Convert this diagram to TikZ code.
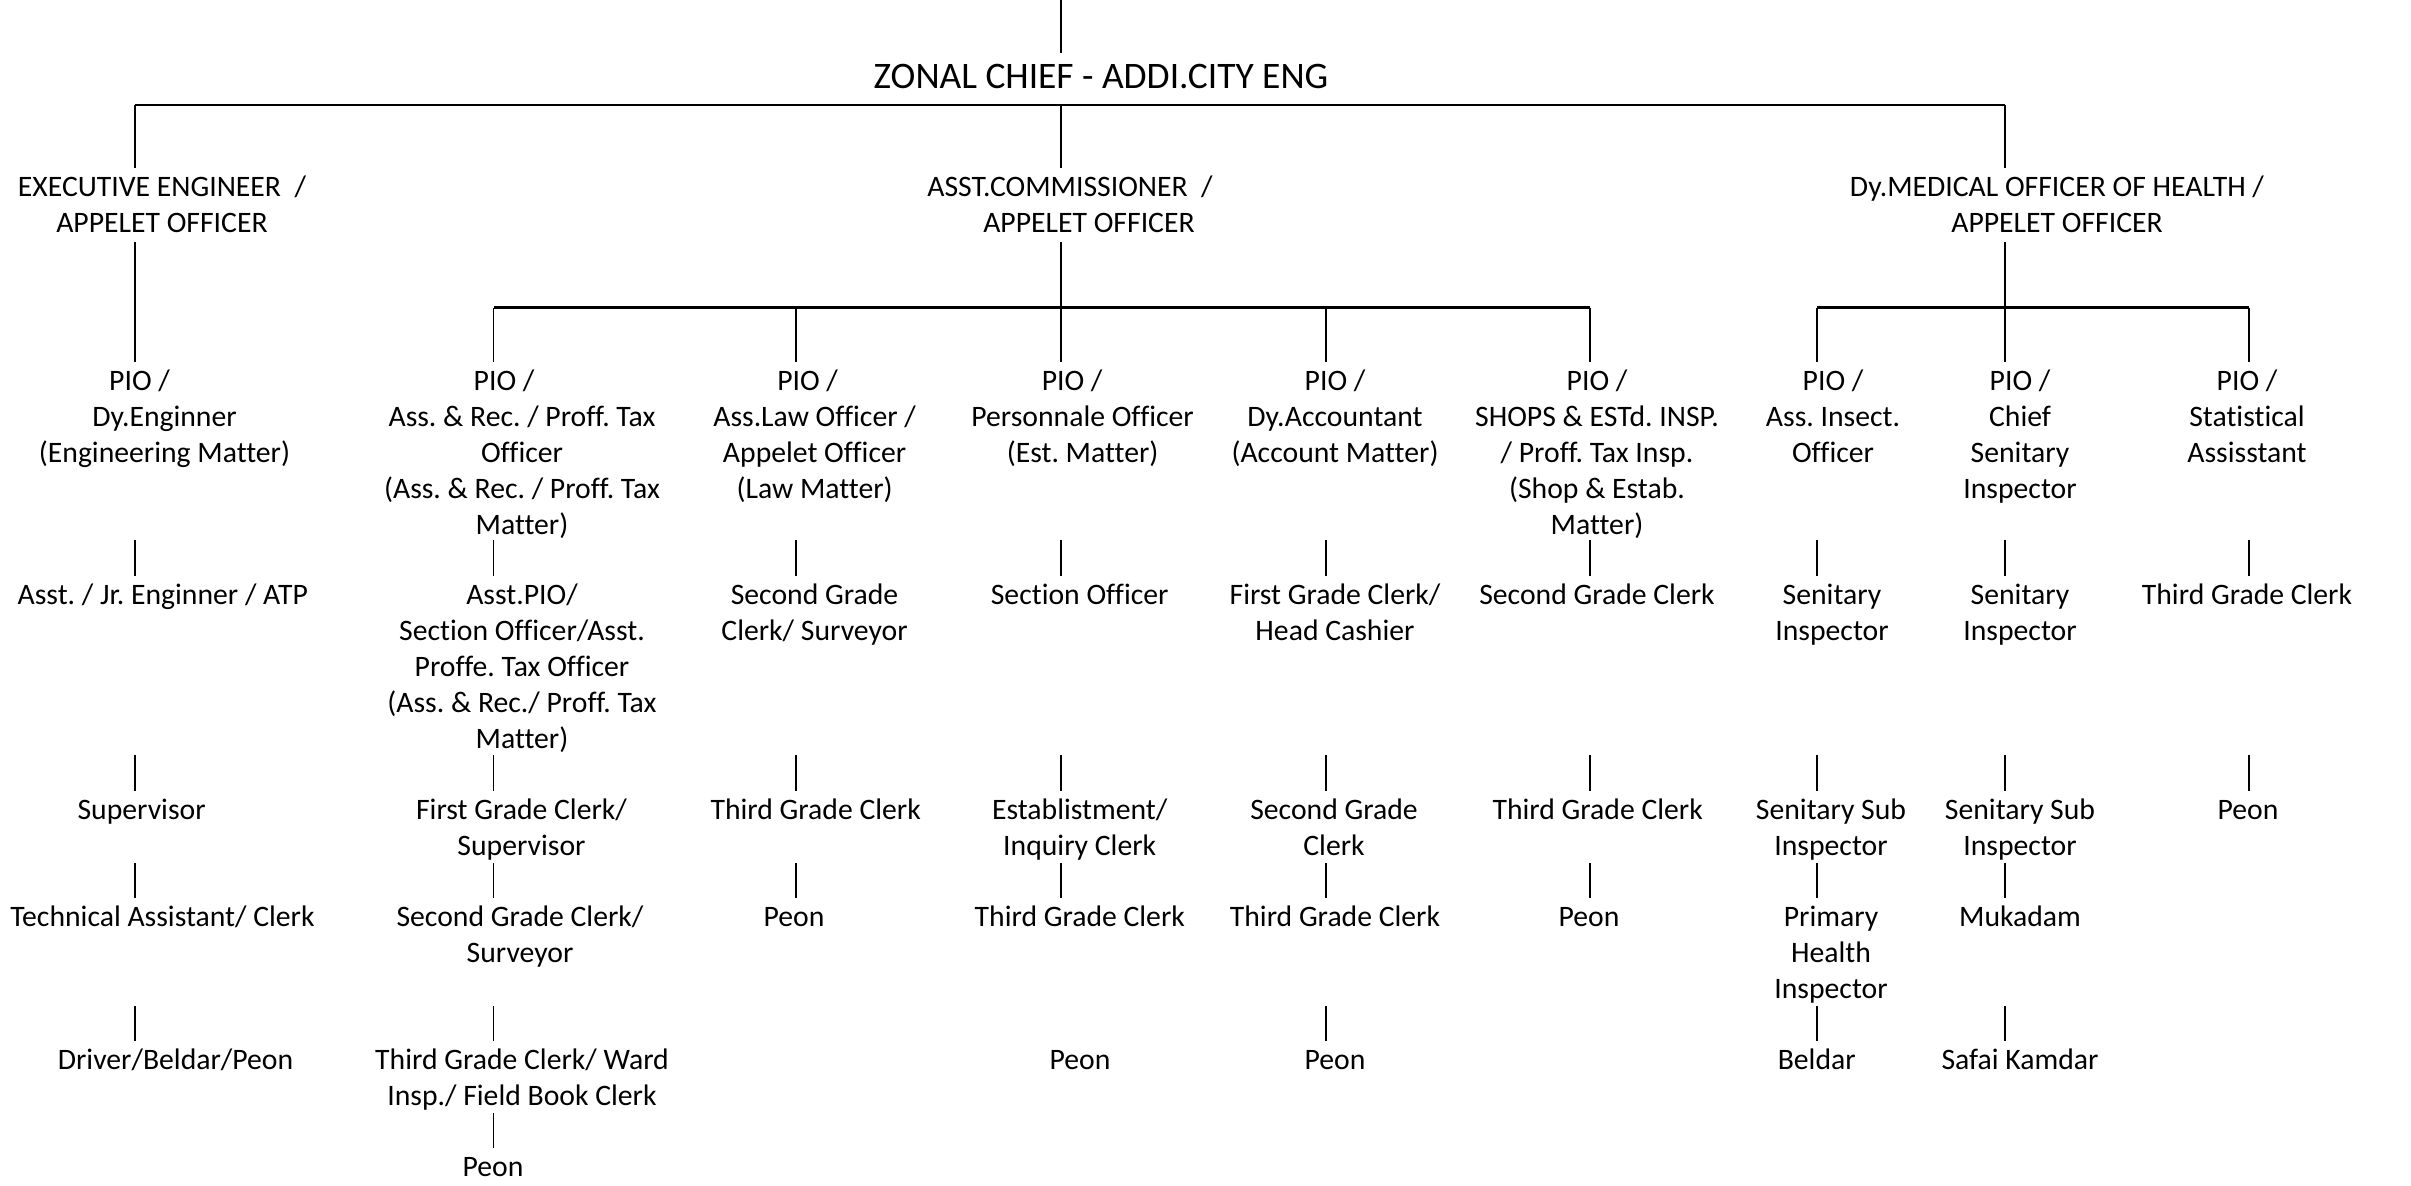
\documentclass[tikz,border=0pt]{standalone}
\usepackage{fontspec}
\setmainfont{Carlito}[Ligatures=NoCommon]
\usepackage{tikz}
\frenchspacing

\tikzset{
    post/.style={anchor=north, inner sep=0pt, align=center,
        font=\fontsize{8.45}{10.2}\selectfont, execute at begin node=\strut},
    head/.style={anchor=base, inner sep=0pt,
        font=\fontsize{10.65}{12.5}\selectfont, execute at begin node=\strut},
    link/.style={line width=0.45pt, shorten >=1pt},
    stem/.style={line width=0.45pt},
    bus/.style={line width=0.6pt}
}

\begin{document}
\begin{tikzpicture}
        \useasboundingbox (0,0) rectangle (24.11,-11.85);

        % columns and levels
        \coordinate (x0) at (1.35,0);
        \coordinate (x1) at (4.935,0);
        \coordinate (x2) at (7.96,0);
        \coordinate (x3) at (10.61,0);
        \coordinate (x4) at (13.257,0);
        \coordinate (x5) at (15.90,0);
        \coordinate (x6) at (18.17,0);
        \coordinate (x7) at (20.05,0);
        \coordinate (x8) at (22.49,0);
        \coordinate (top) at (0,0);
        \coordinate (bus1) at (0,-1.05);
        \coordinate (lvl1) at (0,-2.42);
        \coordinate (bus2) at (0,-3.075);
        \coordinate (lvl2) at (0,-5.40);
        \coordinate (lvl3) at (0,-7.55);
        \coordinate (lvl4) at (0,-8.63);
        \coordinate (lvl5) at (0,-10.06);
        \coordinate (lvl6) at (0,-11.13);

        \node[head] (zonal) at (11.01,-0.88) {ZONAL CHIEF - ADDI.CITY ENG};

        % first level
        \node[post] (exe) at (1.62,-1.71) {\strut EXECUTIVE ENGINEER~~/\\APPELET OFFICER};
        \node[post] (asst) at (10.89,-1.71) {\strut ASST.COMMISSIONER~~/\hspace*{0.38cm}\\APPELET OFFICER};
        \node[post] (dymed) at (20.57,-1.71) {\strut Dy.MEDICAL OFFICER OF HEALTH /\\APPELET OFFICER};

        % pio line
        \node[post] (pio0) at (1.645,-3.65) {\strut PIO /\hspace*{0.50cm}\\Dy.Enginner\\(Engineering Matter)};
        \node[post] (pio1) at (5.22,-3.65) {\strut PIO /\hspace*{0.36cm}\\Ass. \& Rec. / Proff. Tax\\Officer\\(Ass. \& Rec. / Proff. Tax\\Matter)};
        \node[post] (pio2) at (8.146,-3.65) {\strut PIO /\hspace*{0.14cm}\\Ass.Law Officer /\\Appelet Officer\\(Law Matter)};
        \node[post] (pio3) at (10.826,-3.65) {\strut PIO /\hspace*{0.21cm}\\Personnale Officer\\(Est. Matter)};
        \node[post] (pio4) at (13.35,-3.65) {\strut PIO /\\Dy.Accountant\\(Account Matter)};
        \node[post] (pio5) at (15.97,-3.65) {\strut PIO /\\SHOPS \& ESTd. INSP.\\/ Proff. Tax Insp.\\(Shop \& Estab.\\Matter)};
        \node[post] (pio6) at (18.33,-3.65) {\strut PIO /\\Ass. Insect.\\Officer};
        \node[post] (pio7) at (20.20,-3.65) {\strut PIO /\\Chief\\Senitary\\Inspector};
        \node[post] (pio8) at (22.47,-3.65) {\strut PIO /\\Statistical\\Assisstant};

        % third line
        \node[post] (r3c0) at (1.628,-5.79) {Asst. / Jr. Enginner / ATP};
        \node[post] (r3c1) at (5.22,-5.79) {\strut Asst.PIO/\\Section Officer/Asst.\\Proffe. Tax Officer\\(Ass. \& Rec./ Proff. Tax\\Matter)};
        \node[post] (r3c2) at (8.145,-5.79) {\strut Second Grade\\Clerk/ Surveyor};
        \node[post] (r3c3) at (10.797,-5.79) {Section Officer};
        \node[post] (r3c4) at (13.35,-5.79) {\strut First Grade Clerk/\\Head Cashier};
        \node[post] (r3c5) at (15.97,-5.79) {Second Grade Clerk};
        \node[post] (r3c6) at (18.32,-5.79) {\strut Senitary\\Inspector};
        \node[post] (r3c7) at (20.20,-5.79) {\strut Senitary\\Inspector};
        \node[post] (r3c8) at (22.47,-5.79) {Third Grade Clerk};

        % fourth line
        \node[post] (r4c0) at (1.416,-7.94) {Supervisor};
        \node[post] (r4c1) at (5.215,-7.94) {\strut First Grade Clerk/\\Supervisor};
        \node[post] (r4c2) at (8.157,-7.94) {Third Grade Clerk};
        \node[post] (r4c3) at (10.797,-7.94) {\strut Establistment/\\Inquiry Clerk};
        \node[post] (r4c4) at (13.34,-7.94) {\strut Second Grade\\Clerk};
        \node[post] (r4c5) at (15.977,-7.94) {Third Grade Clerk};
        \node[post] (r4c6) at (18.31,-7.94) {\strut Senitary Sub\\Inspector};
        \node[post] (r4c7) at (20.20,-7.94) {\strut Senitary Sub\\Inspector};
        \node[post] (r4c8) at (22.48,-7.94) {Peon};

        % fifth line
        \node[post] (r5c0) at (1.625,-9.01) {Technical Assistant/ Clerk};
        \node[post] (r5c1) at (5.20,-9.01) {\strut Second Grade Clerk/\\Surveyor};
        \node[post] (r5c2) at (7.94,-9.01) {Peon};
        \node[post] (r5c3) at (10.798,-9.01) {Third Grade Clerk};
        \node[post] (r5c4) at (13.35,-9.01) {Third Grade Clerk};
        \node[post] (r5c5) at (15.89,-9.01) {Peon};
        \node[post] (r5c6) at (18.31,-9.01) {\strut Primary\\Health\\Inspector};
        \node[post] (r5c7) at (20.20,-9.01) {Mukadam};

        % sixth line
        \node[post] (r6c0) at (1.755,-10.44) {Driver/Beldar/Peon};
        \node[post] (r6c1) at (5.22,-10.44) {\strut Third Grade Clerk/ Ward\\Insp./ Field Book Clerk};
        \node[post] (r6c3) at (10.80,-10.44) {Peon};
        \node[post] (r6c4) at (13.35,-10.44) {Peon};
        \node[post] (r6c6) at (18.167,-10.44) {Beldar};
        \node[post] (r6c7) at (20.20,-10.44) {Safai Kamdar};

        % last line
        \node[post] (r7c1) at (4.93,-11.51) {Peon};

        % lines from the top
        \draw[link] (x3 |- top) -- (x3 |- zonal.north);
        \draw[bus] (x0 |- bus1) -- (x7 |- bus1);
        \foreach \c/\n in {x0/exe, x3/asst, x7/dymed}
            \draw[link] (\c |- bus1) -- (\c |- \n.north);
        \draw[link] (x0 |- lvl1) -- (x0 |- pio0.north);
        \draw[stem] (x3 |- lvl1) -- (x3 |- bus2);
        \draw[stem] (x7 |- lvl1) -- (x7 |- bus2);
        \draw[bus] (x1 |- bus2) -- (x5 |- bus2);
        \draw[bus] (x6 |- bus2) -- (x8 |- bus2);
        \foreach \c/\n in {x1/pio1, x2/pio2, x3/pio3, x4/pio4, x5/pio5, x6/pio6, x7/pio7, x8/pio8}
            \draw[link] (\c |- bus2) -- (\c |- \n.north);

        % short lines between the rows
        \foreach \c/\n in {x0/r3c0, x1/r3c1, x2/r3c2, x3/r3c3, x4/r3c4, x5/r3c5, x6/r3c6, x7/r3c7, x8/r3c8}
            \draw[link] (\c |- lvl2) -- (\c |- \n.north);
        \foreach \c/\n in {x0/r4c0, x1/r4c1, x2/r4c2, x3/r4c3, x4/r4c4, x5/r4c5, x6/r4c6, x7/r4c7, x8/r4c8}
            \draw[link] (\c |- lvl3) -- (\c |- \n.north);
        \foreach \c/\n in {x0/r5c0, x1/r5c1, x2/r5c2, x3/r5c3, x4/r5c4, x5/r5c5, x6/r5c6, x7/r5c7}
            \draw[link] (\c |- lvl4) -- (\c |- \n.north);
        \foreach \c/\n in {x0/r6c0, x1/r6c1, x4/r6c4, x6/r6c6, x7/r6c7}
            \draw[link] (\c |- lvl5) -- (\c |- \n.north);
        \draw[link] (x1 |- lvl6) -- (x1 |- r7c1.north);
\end{tikzpicture}
\end{document}
